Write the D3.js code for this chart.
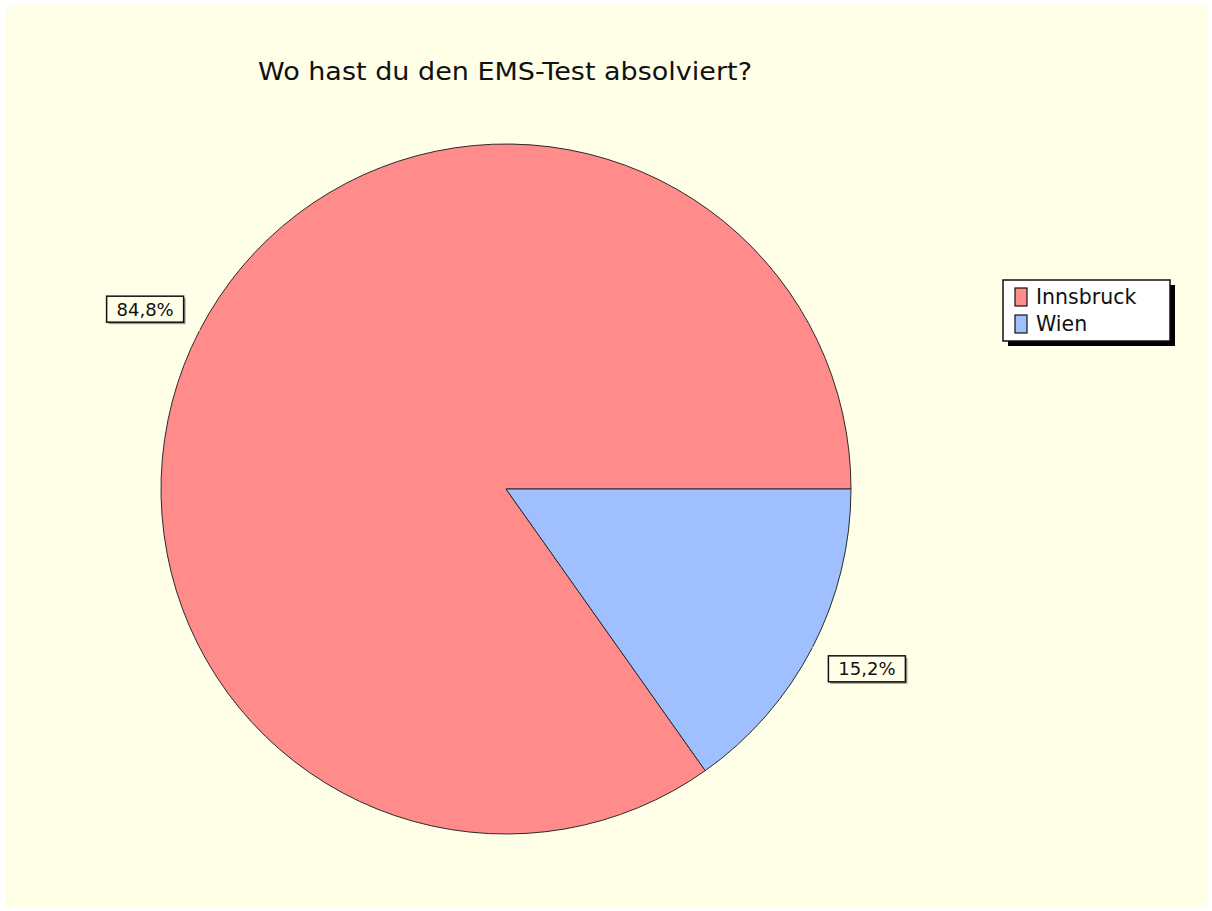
<!doctype html>
<html lang="de">
<head>
    <meta charset="UTF-8">
    <title>Wo hast du den EMS-Test absolviert?</title>
    <style>
        body { margin: 0; background: #fff; }
        text { font-family: "DejaVu Sans", Verdana, sans-serif; fill: #111; }
    </style>
</head>
<body>
    <svg width="1212" height="911"></svg>
    <script src="https://cdn.jsdelivr.net/npm/d3@7/dist/d3.min.js"></script>
    <script>
        // data
        const categories = ["Innsbruck", "Wien"];
        const shares = [84.8, 15.2];
        const colors = ["#ff8b8b", "#a0bfff"];
        const title = "Wo hast du den EMS-Test absolviert?";

        const svg = d3.select("svg");

        svg.append("rect")
            .attr("x", 6).attr("y", 6)
            .attr("width", 1202).attr("height", 902)
            .attr("fill", "#ffffe8");

        svg.append("text")
            .attr("x", 258).attr("y", 80)
            .attr("font-size", 25)
            .attr("textLength", 494)
            .attr("lengthAdjust", "spacingAndGlyphs")
            .text(title);

        const cx = 506, cy = 489, r = 345;
        const g = svg.append("g").attr("transform", "translate(" + cx + "," + cy + ")");

        const color = d3.scaleOrdinal().domain(categories).range(colors);

        // counter-clockwise from 3 o'clock
        const pie = d3.pie().sort(null)
            .startAngle(Math.PI / 2)
            .endAngle(Math.PI / 2 - 2 * Math.PI);
        const arcs = pie(shares);
        const arc = d3.arc().innerRadius(0).outerRadius(r);

        g.selectAll("path.slice")
            .data(arcs)
            .join("path")
            .attr("class", "slice")
            .attr("d", arc)
            .attr("fill", (d, i) => color(categories[i]))
            .attr("stroke", "#2a2a2a")
            .attr("stroke-width", 1);

        // labels with leader lines
        const boxW = 77, boxH = 26;
        arcs.forEach((d, i) => {
            const a = (d.startAngle + d.endAngle) / 2;
            const ux = Math.sin(a), uy = -Math.cos(a);
            const ex = ux * r, ey = uy * r;
            const lx = ux * (r + 18), ly = uy * (r + 18);
            g.append("line")
                .attr("x1", ex).attr("y1", ey)
                .attr("x2", lx).attr("y2", ly)
                .attr("stroke", "#fff").attr("stroke-width", 1.2);
            const bx = ux < 0 ? lx - boxW : lx;
            const by = uy < 0 ? ly - boxH : ly;
            g.append("rect")
                .attr("x", bx + 2).attr("y", by + 2)
                .attr("width", boxW).attr("height", boxH)
                .attr("fill", "#999");
            g.append("rect")
                .attr("x", bx).attr("y", by)
                .attr("width", boxW).attr("height", boxH)
                .attr("fill", "#ffffe8")
                .attr("stroke", "#111").attr("stroke-width", 1.5);
            g.append("text")
                .attr("x", bx + boxW / 2).attr("y", by + boxH / 2 + 6.5)
                .attr("text-anchor", "middle")
                .attr("font-size", 18)
                .text(d3.format(".1f")(shares[i]).replace(".", ",") + "%");
        });

        // legend
        const legend = svg.append("g").attr("transform", "translate(1003,280)");
        legend.append("rect")
            .attr("x", 5).attr("y", 5)
            .attr("width", 167).attr("height", 61)
            .attr("fill", "#000");
        legend.append("rect")
            .attr("width", 167).attr("height", 61)
            .attr("fill", "#fff")
            .attr("stroke", "#111").attr("stroke-width", 1.5);
        const item = legend.selectAll("g.item")
            .data(categories)
            .join("g")
            .attr("class", "item")
            .attr("transform", (d, i) => "translate(12," + (8 + i * 27) + ")");
        item.append("rect")
            .attr("width", 12).attr("height", 18)
            .attr("fill", d => color(d))
            .attr("stroke", "#111").attr("stroke-width", 1.2);
        item.append("text")
            .attr("x", 21).attr("y", 16)
            .attr("font-size", 20.5)
            .text(d => d);
    </script>
</body>
</html>
